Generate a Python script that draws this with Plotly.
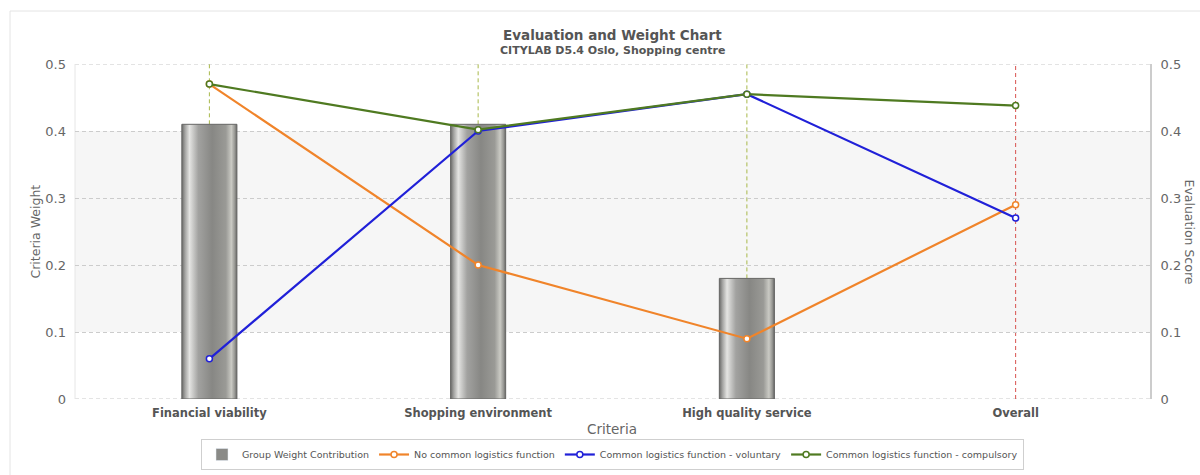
import plotly.graph_objects as go

# Criteria and their group weights
criteria = ["Financial viability", "Shopping environment", "High quality service", "Overall"]
weights = [0.41, 0.41, 0.18, 0.0]

# Evaluation scores per scenario
no_common = [0.47, 0.20, 0.09, 0.29]
voluntary = [0.06, 0.40, 0.455, 0.27]
compulsory = [0.47, 0.402, 0.455, 0.438]

series_names = [
    "No common logistics function",
    "Common logistics function - voluntary",
    "Common logistics function - compulsory",
]
series_colors = ["#f0842a", "#2020d8", "#4f7a21"]
drop_colors = ["#a8b84a", "#a8b84a", "#a8b84a", "#d9534f"]

BAR_W = 0.205
L, R, T, B = 75, 50, 64, 76
W, H = 1200, 475
plot_h = H - T - B
plot_w = W - L - R

def py(p):
    return (H - B - p) / plot_h

def px(p):
    return (p - L) / plot_w

xs = list(range(len(criteria)))
fig = go.Figure()

# cylinder-like bars as gradient-filled polygons
bar_scale = [
    [0.0, "#6a6a68"], [0.06, "#a5a5a3"], [0.14, "#e4e4e2"], [0.3, "#a2a2a0"],
    [0.55, "#878784"], [0.8, "#9a9a96"], [0.9, "#cacac4"], [0.96, "#989894"], [1.0, "#666664"],
]
for i, w in zip(xs, weights):
    if w <= 0:
        continue
    fig.add_trace(go.Scatter(
        x=[i - BAR_W / 2, i - BAR_W / 2, i + BAR_W / 2, i + BAR_W / 2, i - BAR_W / 2],
        y=[0, w, w, 0, 0],
        mode="lines", fill="toself",
        fillgradient=dict(type="horizontal", colorscale=bar_scale),
        line=dict(color="#666664", width=1),
        showlegend=False, hoverinfo="skip",
    ))

# legend entry for the bars
fig.add_trace(go.Bar(x=[None], y=[None], name="Group Weight Contribution",
                     marker=dict(color="#8a8a87")))

for name, vals, col in zip(series_names, [no_common, voluntary, compulsory], series_colors):
    fig.add_trace(go.Scatter(
        x=xs, y=vals, name=name, yaxis="y2", mode="lines+markers",
        line=dict(color=col, width=2.2),
        marker=dict(symbol="circle", size=6, color="white", line=dict(color=col, width=1.5)),
    ))

shapes = []
# light band between 0.1 and 0.4
shapes.append(dict(type="rect", xref="paper", yref="y", x0=0, x1=1, y0=0.1, y1=0.4,
                   fillcolor="#f6f6f6", line=dict(width=0), layer="below"))
# dashed grid lines at the range edges
for gy in (0.0, 0.5):
    shapes.append(dict(type="line", xref="paper", yref="y", x0=0, x1=1, y0=gy, y1=gy,
                       line=dict(color="#c8c8c8", width=1, dash="4px,3px"), layer="below"))
# drop lines from each bar top to chart top
for i, w, c in zip(xs, weights, drop_colors):
    shapes.append(dict(type="line", xref="x", yref="y", x0=i, x1=i, y0=w, y1=0.5,
                       line=dict(color=c, width=1, dash="4px,3px"), layer="below"))
# left plot edge
shapes.append(dict(type="line", xref="paper", yref="paper", x0=0, x1=0, y0=0, y1=1,
                   line=dict(color="#e6e6e6", width=1), layer="below"))
# outer frame (top and left)
shapes.append(dict(type="line", xref="paper", yref="paper", x0=px(10), x1=px(1205),
                   y0=py(11), y1=py(11), line=dict(color="#e4e4e4", width=1)))
shapes.append(dict(type="line", xref="paper", yref="paper", x0=px(10), x1=px(10),
                   y0=py(11), y1=py(480), line=dict(color="#e4e4e4", width=1)))

font = "DejaVu Sans"

def label(text, x, y, size, angle=0, color="#666"):
    return dict(text=text, xref="paper", yref="paper", x=x, y=y, textangle=angle,
                xanchor="center", yanchor="middle", showarrow=False,
                font=dict(family=font, size=size, color=color))

annotations = [
    label("<b>Evaluation and Weight Chart</b>", px(612), py(35), 13.5, color="#555"),
    label("<b>CITYLAB D5.4 Oslo, Shopping centre</b>", px(612), py(50), 11, color="#555"),
    label("Criteria Weight", px(35), 0.5, 12.5, angle=-90),
    label("Evaluation Score", px(1189), 0.5, 12.5, angle=90),
    label("Criteria", px(612), py(429), 13.5),
]

tickvals_y = [0, 0.1, 0.2, 0.3, 0.4, 0.5]
ticktext_y = ["0", "0.1", "0.2", "0.3", "0.4", "0.5"]

fig.update_layout(
    width=W, height=H,
    margin=dict(l=L, r=R, t=T, b=B, pad=0, autoexpand=False),
    paper_bgcolor="white", plot_bgcolor="rgba(0,0,0,0)",
    font=dict(family=font, color="#666"),
    xaxis=dict(range=[-0.5, 3.5], tickvals=xs, ticktext=[f"<b>{c}</b>" for c in criteria],
               tickfont=dict(family=font, size=11.5, color="#555"), showgrid=False,
               zeroline=False, showline=False, ticks="", fixedrange=True,
               ticklabelstandoff=5),
    yaxis=dict(range=[0, 0.5], tickvals=tickvals_y, ticktext=ticktext_y,
               tickfont=dict(family=font, size=13, color="#666"), showgrid=True,
               gridcolor="#cccccc", griddash="4px,3px", gridwidth=1, zeroline=False,
               showline=False, ticks="", ticklabelstandoff=8),
    yaxis2=dict(range=[0, 0.5], tickvals=tickvals_y, ticktext=ticktext_y, overlaying="y",
                side="right", tickfont=dict(family=font, size=13, color="#666"),
                showgrid=False, zeroline=False, showline=True, linecolor="#cccccc",
                linewidth=2, ticks="", ticklabelstandoff=6),
    legend=dict(orientation="h", x=0.5, xanchor="center", y=py(439), yanchor="top",
                bordercolor="#cfcfcf", borderwidth=1, bgcolor="white",
                font=dict(family=font, size=9.5, color="#555"), itemwidth=30),
    shapes=shapes, annotations=annotations, showlegend=True,
)

fig.write_html("out.html")
